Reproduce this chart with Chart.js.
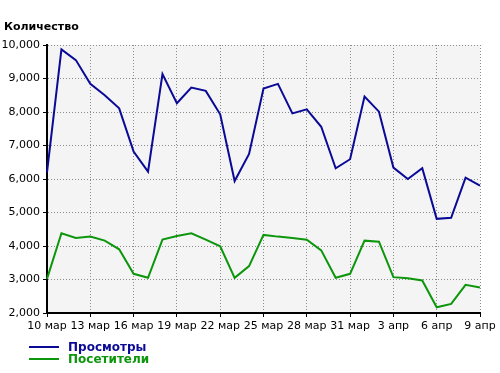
<!DOCTYPE html>
<html>
<head>
<meta charset="utf-8">
<script src="https://cdn.jsdelivr.net/npm/chart.js@4"></script>
<style>
    body { margin: 0; background: #fff; font-family: "DejaVu Sans", Verdana, sans-serif; }
    #wrap { position: relative; width: 500px; height: 373px; }
    #chart { position: absolute; left: 0; top: 0; }
    #title { position: absolute; left: 4px; top: 20px; font-size: 11px; font-weight: bold; color: #000; }
    .legend-item { position: absolute; left: 29px; font-size: 12px; font-weight: bold; height: 14px; line-height: 14px; }
    .legend-item span.line { position: absolute; left: 0; top: 6px; width: 30px; height: 2px; }
    .legend-item span.text { position: absolute; left: 39px; top: 0; white-space: nowrap; }
</style>
</head>
<body>
<div id="wrap">
    <canvas id="chart" width="500" height="373"></canvas>
    <div id="title">Количество</div>
    <div id="legend"></div>
</div>
<script>
// Dates (10 March .. 9 April)
const categories = [
    '10 мар', '11 мар', '12 мар', '13 мар', '14 мар', '15 мар', '16 мар', '17 мар',
    '18 мар', '19 мар', '20 мар', '21 мар', '22 мар', '23 мар', '24 мар', '25 мар',
    '26 мар', '27 мар', '28 мар', '29 мар', '30 мар', '31 мар',
    '1 апр', '2 апр', '3 апр', '4 апр', '5 апр', '6 апр', '7 апр', '8 апр', '9 апр'
];

const views = [
    6200, 9870, 9550, 8840, 8500, 8110, 6820, 6220, 9130, 8260, 8730, 8630, 7930, 5940, 6750, 8700,
    8840, 7960, 8080, 7560, 6320, 6590, 8460, 8010, 6340, 6000, 6320, 4810, 4840, 6040, 5800
];

const visitors = [
    3020, 4380, 4240, 4280, 4160, 3900, 3170, 3050, 4190, 4300, 4380, 4190, 3990, 3050, 3400, 4330,
    4280, 4240, 4190, 3870, 3050, 3170, 4160, 4130, 3070, 3040, 2970, 2170, 2270, 2840, 2760
];

const seriesNames = ['Просмотры', 'Посетители'];
const seriesColors = ['#0a0a96', '#0c960c'];
const yMin = 2000, yMax = 10000, yStep = 1000;

// light gray plot background
const plotBackground = {
    id: 'plotBackground',
    beforeDraw(chart) {
        const a = chart.chartArea;
        const ctx = chart.ctx;
        ctx.save();
        ctx.fillStyle = '#f4f4f4';
        ctx.fillRect(a.left, a.top, a.right - a.left, a.bottom - a.top);
        ctx.restore();
    }
};

const tickFont = { family: '"DejaVu Sans", Verdana, sans-serif', size: 11 };
const gridColor = '#8c8c8c';

const chart = new Chart(document.getElementById('chart'), {
    type: 'line',
    data: {
        labels: categories,
        datasets: [
            { label: seriesNames[0], data: views, borderColor: seriesColors[0], borderWidth: 2, pointRadius: 0, tension: 0 },
            { label: seriesNames[1], data: visitors, borderColor: seriesColors[1], borderWidth: 2, pointRadius: 0, tension: 0 }
        ]
    },
    options: {
        responsive: false,
        animation: false,
        layout: { padding: { left: 0, right: 20, top: 45, bottom: 38 } },
        plugins: {
            legend: { display: false },
            tooltip: { enabled: false }
        },
        scales: {
            x: {
                offset: false,
                grid: {
                    color: ctx => (ctx.index % 3 === 0 ? gridColor : 'rgba(0,0,0,0)'),
                    tickColor: ctx => (ctx.index % 3 === 0 ? '#000' : 'rgba(0,0,0,0)'),
                    tickLength: 4,
                    tickBorderDash: []
                },
                border: { color: '#000', width: 2, dash: [1, 2] },
                ticks: {
                    autoSkip: false,
                    maxRotation: 0,
                    color: '#000',
                    font: tickFont,
                    padding: 3,
                    callback: function(value, index) {
                        return index % 3 === 0 ? categories[index] : '';
                    }
                },
                afterFit: scale => { scale.height = 22; }
            },
            y: {
                min: yMin,
                max: yMax,
                grid: {
                    color: gridColor,
                    tickColor: '#000',
                    tickLength: 4,
                    tickBorderDash: []
                },
                border: { color: '#000', width: 2, dash: [1, 2] },
                ticks: {
                    stepSize: yStep,
                    color: '#000',
                    font: tickFont,
                    padding: 3,
                    callback: value => value.toLocaleString('en-US')
                },
                afterFit: scale => { scale.width = 47; }
            }
        }
    },
    plugins: [plotBackground]
});

// legend below the chart, one item per row
const legend = document.getElementById('legend');
seriesNames.forEach((name, i) => {
    const item = document.createElement('div');
    item.className = 'legend-item';
    item.style.top = (340 + i * 12) + 'px';
    item.style.color = seriesColors[i];
    item.innerHTML = '<span class="line" style="background:' + seriesColors[i] + '"></span><span class="text">' + name + '</span>';
    legend.appendChild(item);
});
</script>
</body>
</html>
